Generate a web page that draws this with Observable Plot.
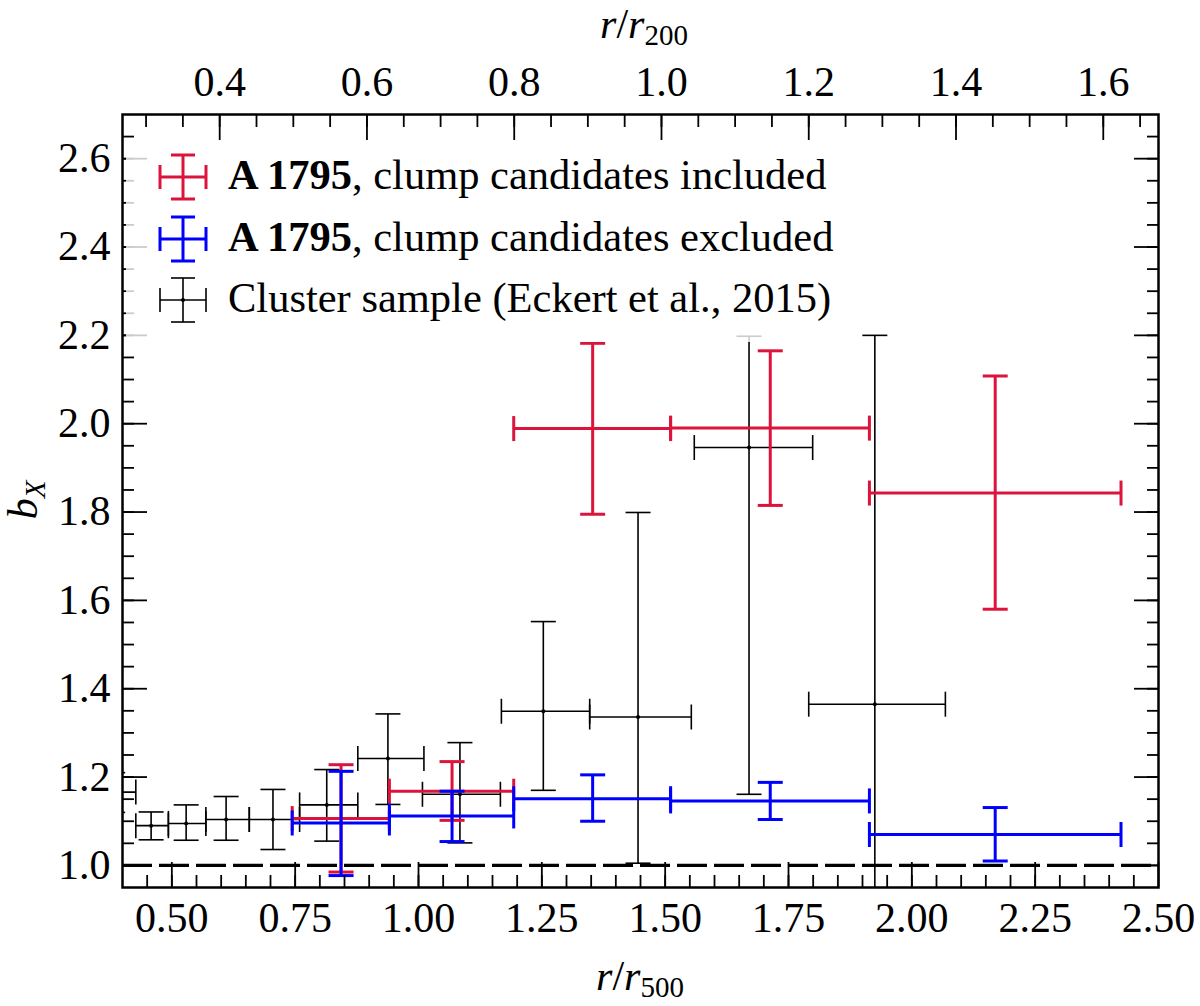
<!DOCTYPE html>
<html>
<head>
<meta charset="utf-8">
<script src="https://cdn.jsdelivr.net/npm/d3@7"></script>
<script src="https://cdn.jsdelivr.net/npm/@observablehq/plot@0.6"></script>
<style>
  body { margin: 0; background: white; }
  #chart { position: relative; width: 1200px; height: 1006px; font-family: "Liberation Serif", serif; }
  .legend { position: absolute; left: 126px; top: 140px; width: 718px; height: 202px;
            background: rgba(255,255,255,0.8); border-radius: 6px; }
  .row { position: absolute; left: 102px; font-size: 42.5px; white-space: nowrap; line-height: 1; }
  .handle { position: absolute; left: 27px; }
</style>
</head>
<body>
<div id="chart"></div>
<script>
// r/r500 -> r/r200
const K = 0.67

// A 1795, clump candidates included (red)
const redX   = [0.843, 1.068, 1.353, 1.713, 2.169]
const redXlo = [0.744, 0.941, 1.193, 1.511, 1.914]
const redXhi = [0.941, 1.193, 1.511, 1.914, 2.424]
const redY   = [1.106, 1.168, 1.989, 1.990, 1.843]
const redYlo = [0.985, 1.102, 1.795, 1.815, 1.580]
const redYhi = [1.228, 1.235, 2.182, 2.165, 2.108]

// A 1795, clump candidates excluded (blue)
const blueX   = [0.843, 1.068, 1.353, 1.713, 2.169]
const blueXlo = [0.744, 0.941, 1.193, 1.511, 1.914]
const blueXhi = [0.941, 1.193, 1.511, 1.914, 2.424]
const blueY   = [1.096, 1.112, 1.151, 1.146, 1.070]
const blueYlo = [0.977, 1.054, 1.100, 1.104, 1.010]
const blueYhi = [1.213, 1.168, 1.205, 1.188, 1.131]

// Cluster sample (Eckert et al., 2015)
const ecX   = [0.380, 0.458, 0.529, 0.610, 0.705, 0.814, 0.938, 1.084, 1.253, 1.445, 1.670, 1.925]
const ecXlo = [0.335, 0.427, 0.493, 0.569, 0.657, 0.759, 0.877, 1.008, 1.168, 1.347, 1.559, 1.791]
const ecXhi = [0.427, 0.493, 0.569, 0.657, 0.759, 0.877, 1.011, 1.166, 1.347, 1.553, 1.799, 2.068]
const ecY   = [1.166, 1.090, 1.095, 1.104, 1.104, 1.137, 1.242, 1.161, 1.349, 1.336, 1.946, 1.365]
const ecYlo = [1.120, 1.058, 1.057, 1.057, 1.036, 1.055, 1.138, 1.051, 1.170, 1.005, 1.161, 0.530]
const ecYhi = [1.210, 1.121, 1.137, 1.156, 1.172, 1.217, 1.343, 1.278, 1.552, 1.799, 2.198, 2.200]

const refLevel = [1.0]

// ticks
const xMajor = [0.5, 0.75, 1.0, 1.25, 1.5, 1.75, 2.0, 2.25, 2.5]
const xMinor = d3.range(0.45, 2.5, 0.05)
const topMajor = [0.4, 0.6, 0.8, 1.0, 1.2, 1.4, 1.6]
const topMinor = d3.range(0.3, 1.67, 0.05)
const yMajor = [1.0, 1.2, 1.4, 1.6, 1.8, 2.0, 2.2, 2.4, 2.6]
const yMinor = d3.range(1.0, 2.7, 0.05)

const table = (x, xlo, xhi, y, ylo, yhi) =>
  x.map((v, i) => ({x: v, xlo: xlo[i], xhi: xhi[i], y: y[i], ylo: ylo[i], yhi: yhi[i]}))

const red = table(redX, redXlo, redXhi, redY, redYlo, redYhi)
const blue = table(blueX, blueXlo, blueXhi, blueY, blueYlo, blueYhi)
const eckert = table(ecX, ecXlo, ecXhi, ecY, ecYlo, ecYhi)

// cap symbols: short lines, half length = r
const hCap = {draw(ctx, size) { const w = Math.sqrt(size / Math.PI); ctx.moveTo(-w, 0); ctx.lineTo(w, 0) }}
const vCap = {draw(ctx, size) { const w = Math.sqrt(size / Math.PI); ctx.moveTo(0, -w); ctx.lineTo(0, w) }}

function errorbars(data, color, sw) {
  const o = {stroke: color, strokeWidth: sw, fill: 'none', clip: true}
  return [
    Plot.link(data, {x1: 'xlo', x2: 'xhi', y1: 'y', y2: 'y', ...o}),
    Plot.link(data, {x1: 'x', x2: 'x', y1: 'ylo', y2: 'yhi', ...o}),
    Plot.dot(data, {x: 'xlo', y: 'y', symbol: vCap, r: 12.5, ...o}),
    Plot.dot(data, {x: 'xhi', y: 'y', symbol: vCap, r: 12.5, ...o}),
    Plot.dot(data, {x: 'x', y: 'ylo', symbol: hCap, r: 12.5, ...o}),
    Plot.dot(data, {x: 'x', y: 'yhi', symbol: hCap, r: 12.5, ...o}),
  ]
}

const tickStyle = {fill: 'none', strokeWidth: 1.8, label: null}

const chart = Plot.plot({
  width: 1200,
  height: 1006,
  marginLeft: 122,
  marginRight: 42,
  marginTop: 114,
  marginBottom: 119,
  x: {domain: [0.4, 2.5], axis: null},
  y: {domain: [0.95, 2.7], axis: null},
  style: {fontFamily: '"Liberation Serif", serif', fontSize: '42px', color: 'black', background: 'white'},
  marks: [
    Plot.ruleY(refLevel, {stroke: 'black', strokeWidth: 3.2, strokeDasharray: '30,7'}),

    ...errorbars(eckert, 'black', 1.6),
    Plot.dot(eckert, {x: 'x', y: 'y', r: 2, fill: 'black', clip: true}),
    ...errorbars(red, '#dc143c', 3),
    ...errorbars(blue, '#0000ff', 3),

    // inward ticks, bottom (r/r500)
    Plot.axisX({anchor: 'bottom', ticks: xMinor, tickSize: 12, dy: -12, ...tickStyle}),
    Plot.axisX({anchor: 'bottom', ticks: xMajor, tickSize: 25, dy: -25, ...tickStyle}),
    Plot.axisX({anchor: 'bottom', ticks: xMajor, tickSize: 0, tickPadding: 15, tickFormat: d3.format('.2f'), fontSize: 42, label: null}),

    // inward ticks, top (r/r200)
    Plot.axisX({anchor: 'top', ticks: topMinor.map(v => v / K), tickSize: 12, dy: 12, ...tickStyle}),
    Plot.axisX({anchor: 'top', ticks: topMajor.map(v => v / K), tickSize: 25, dy: 25, ...tickStyle}),
    Plot.axisX({anchor: 'top', ticks: topMajor.map(v => v / K), tickSize: 0, tickPadding: 19, tickFormat: d => (d * K).toFixed(1), fontSize: 42, label: null}),

    // inward ticks, left and right
    Plot.axisY({anchor: 'left', ticks: yMinor, tickSize: 12, dx: 12, ...tickStyle}),
    Plot.axisY({anchor: 'left', ticks: yMajor, tickSize: 25, dx: 25, ...tickStyle}),
    Plot.axisY({anchor: 'right', ticks: yMinor, tickSize: 12, dx: -12, ...tickStyle}),
    Plot.axisY({anchor: 'right', ticks: yMajor, tickSize: 25, dx: -25, ...tickStyle}),
    Plot.axisY({anchor: 'left', ticks: yMajor, tickSize: 0, tickPadding: 12, tickFormat: d3.format('.1f'), fontSize: 42, label: null}),

    Plot.frame({stroke: 'black', strokeWidth: 2.5}),
  ],
})

d3.select('#chart').append(() => chart)

// axis titles
const svg = d3.select(chart)
function radiusTitle(x, y, sub) {
  const t = svg.append('text').attr('x', x).attr('y', y).attr('text-anchor', 'middle')
    .attr('font-family', '"Liberation Serif", serif').attr('font-size', 42).attr('fill', 'black')
  t.append('tspan').attr('font-style', 'italic').text('r')
  t.append('tspan').text('/')
  t.append('tspan').attr('font-style', 'italic').text('r')
  t.append('tspan').attr('font-size', 29).attr('dy', 7).text(sub)
}
radiusTitle(640, 990, '500')
radiusTitle(644, 38, '200')

const yt = svg.append('text').attr('transform', 'translate(37,500) rotate(-90)').attr('text-anchor', 'middle')
  .attr('font-family', '"Liberation Serif", serif').attr('font-size', 42).attr('fill', 'black')
yt.append('tspan').attr('font-style', 'italic').text('b')
yt.append('tspan').attr('font-style', 'italic').attr('font-size', 29).attr('dy', 8).text('X')

// legend
const legendItems = [
  {color: '#dc143c', sw: 3, bold: 'A 1795', rest: ', clump candidates included', dot: false},
  {color: '#0000ff', sw: 3, bold: 'A 1795', rest: ', clump candidates excluded', dot: false},
  {color: 'black', sw: 1.6, bold: '', rest: 'Cluster sample (Eckert et al., 2015)', dot: true},
]
const legend = d3.select('#chart').append('div').attr('class', 'legend')
legendItems.forEach((d, i) => {
  const cy = 37 + i * 61.5
  const h = legend.append('svg').attr('class', 'handle').attr('width', 60).attr('height', 60)
    .style('top', (cy - 30) + 'px')
  const g = h.append('g').attr('stroke', d.color).attr('stroke-width', d.sw).attr('fill', 'none')
  g.append('line').attr('x1', 7).attr('x2', 53).attr('y1', 30).attr('y2', 30)
  g.append('line').attr('x1', 30).attr('x2', 30).attr('y1', 8).attr('y2', 52)
  g.append('line').attr('x1', 7).attr('x2', 7).attr('y1', 18).attr('y2', 42)
  g.append('line').attr('x1', 53).attr('x2', 53).attr('y1', 18).attr('y2', 42)
  g.append('line').attr('x1', 18).attr('x2', 42).attr('y1', 8).attr('y2', 8)
  g.append('line').attr('x1', 18).attr('x2', 42).attr('y1', 52).attr('y2', 52)
  if (d.dot) h.append('circle').attr('cx', 30).attr('cy', 30).attr('r', 2).attr('fill', d.color)
  const row = legend.append('div').attr('class', 'row').style('top', (cy - 23) + 'px')
  if (d.bold) row.append('b').text(d.bold)
  row.append('span').text(d.rest)
})
</script>
</body>
</html>
